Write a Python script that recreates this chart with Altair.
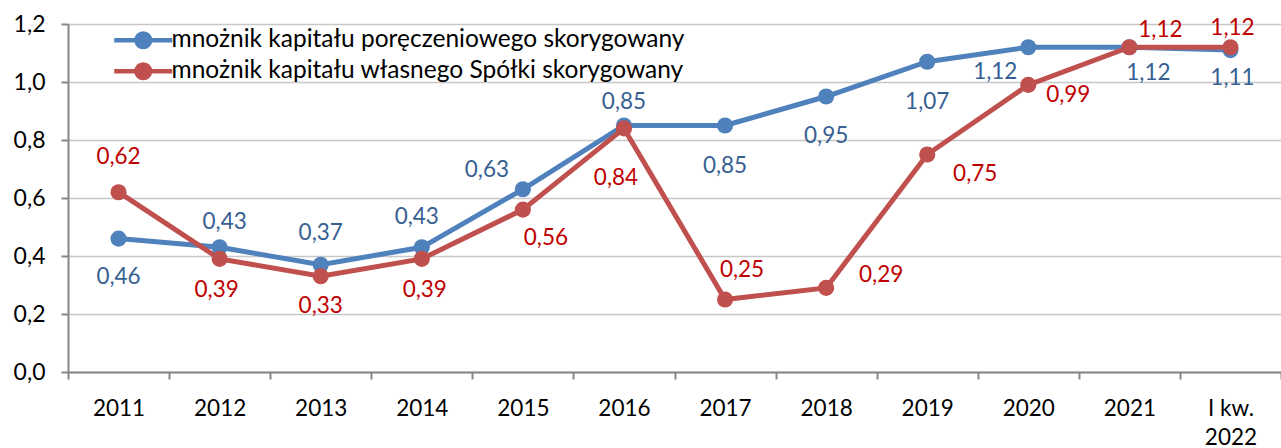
import altair as alt
import pandas as pd

categories = ["2011", "2012", "2013", "2014", "2015", "2016", "2017", "2018",
              "2019", "2020", "2021", "I kw. 2022"]
series_names = ["mnożnik kapitału poręczeniowego skorygowany",
                "mnożnik kapitału własnego Spółki skorygowany"]
blue_values = [0.46, 0.43, 0.37, 0.43, 0.63, 0.85, 0.85, 0.95, 1.07, 1.12, 1.12, 1.11]
red_values = [0.62, 0.39, 0.33, 0.39, 0.56, 0.84, 0.25, 0.29, 0.75, 0.99, 1.12, 1.12]

# label placement offsets (pixels) relative to each point
blue_dx = [0, 5, 0, -5, -36, 0, 0, 0, 0, -33, 19, 2]
blue_dy = [38, -25, -32, -30, -19, -24, 40, 39, 40, 25, 26, 28]
red_dx = [0, -3, 0, 3, 23, -8, 17, 55, 48, 40, 31, 2]
red_dy = [-35, 31, 30, 31, 28, 50, -30, -13, 19, 10, -17, -19]

blue_line = "#4F81BD"
red_line = "#C0504D"
blue_text = "#376092"
red_text = "#C00000"
FONT = "Lato"


def fmt(v):
    return f"{v:.2f}".replace(".", ",")


rows = []
for i, c in enumerate(categories):
    rows.append(dict(cat=c, series=series_names[0], value=blue_values[i],
                     label=fmt(blue_values[i]), order=i))
for i, c in enumerate(categories):
    rows.append(dict(cat=c, series=series_names[1], value=red_values[i],
                     label=fmt(red_values[i]), order=100 + i))
df = pd.DataFrame(rows)

x_enc = alt.X("cat:N", sort=categories, title=None,
              scale=alt.Scale(paddingInner=0, paddingOuter=0),
              axis=alt.Axis(labelAngle=0, tickBand="extent", domainColor="#868686",
                            domainWidth=2, tickColor="#868686", tickWidth=2, tickSize=7,
                            labelFont=FONT, labelFontSize=22.5, labelColor="#000000",
                            labelPadding=18, labelLineHeight=29,
                            labelExpr="datum.value == 'I kw. 2022' ? ['I kw.', '2022'] : datum.label",
                            grid=False))
y_enc = alt.Y("value:Q", title=None,
              scale=alt.Scale(domain=[0, 1.2], nice=False),
              axis=alt.Axis(values=[0, 0.2, 0.4, 0.6, 0.8, 1.0, 1.2],
                            labelExpr="replace(format(datum.value, '.1f'), '.', ',')",
                            domainColor="#868686", domainWidth=2, tickColor="#868686",
                            tickWidth=2, tickSize=7, labelPadding=16,
                            labelFont=FONT, labelFontSize=23, labelColor="#000000",
                            gridColor="#C8C8C8", gridWidth=1.5))

color_scale = alt.Scale(domain=series_names, range=[blue_line, red_line])

# legend symbol: a line with a solid dot (dot built from stroked rings)
legend_path = ("M-3,0L3,0"
               "M0.25,0A0.25,0.25,0,1,1,-0.25,0A0.25,0.25,0,1,1,0.25,0"
               "M0.7,0A0.7,0.7,0,1,1,-0.7,0A0.7,0.7,0,1,1,0.7,0")
leg = alt.Legend(title=None, orient="none", legendX=63, legendY=4,
                 symbolType=legend_path, symbolSize=374, symbolStrokeWidth=4.5,
                 labelFont=FONT, labelFontSize=24.5, labelColor="#000000",
                 labelOffset=16, rowPadding=-2, padding=0, labelLimit=800)

lines = alt.Chart(df).mark_line(strokeWidth=5).encode(
    x=x_enc, y=y_enc,
    color=alt.Color("series:N", scale=color_scale, legend=leg),
    detail="series:N",
    order="order:Q",
)

points = alt.Chart(df).mark_circle(size=260, opacity=1).encode(
    x=x_enc, y=y_enc,
    color=alt.Color("series:N", scale=color_scale, legend=None),
    order="order:Q",
)

text_layers = []
for k in range(len(categories)):
    text_layers.append(
        alt.Chart(df).transform_filter(alt.datum.order == k).mark_text(
            font=FONT, fontSize=22.5, color=blue_text, align="center", baseline="middle",
            dx=blue_dx[k], dy=blue_dy[k]
        ).encode(x=x_enc, y=y_enc, text="label:N")
    )
for k in range(len(categories)):
    text_layers.append(
        alt.Chart(df).transform_filter(alt.datum.order == 100 + k).mark_text(
            font=FONT, fontSize=22.5, color=red_text, align="center", baseline="middle",
            dx=red_dx[k], dy=red_dy[k]
        ).encode(x=x_enc, y=y_enc, text="label:N")
    )

chart = alt.layer(lines, points, *text_layers).properties(
    width=1213, height=348,
    autosize=alt.AutoSizeParams(type="none"),
    padding={"left": 68, "top": 24, "right": 0, "bottom": 76},
).configure_view(stroke=None).configure(background="white")

chart.save("out.html", embed_options={"renderer": "svg", "actions": False})
